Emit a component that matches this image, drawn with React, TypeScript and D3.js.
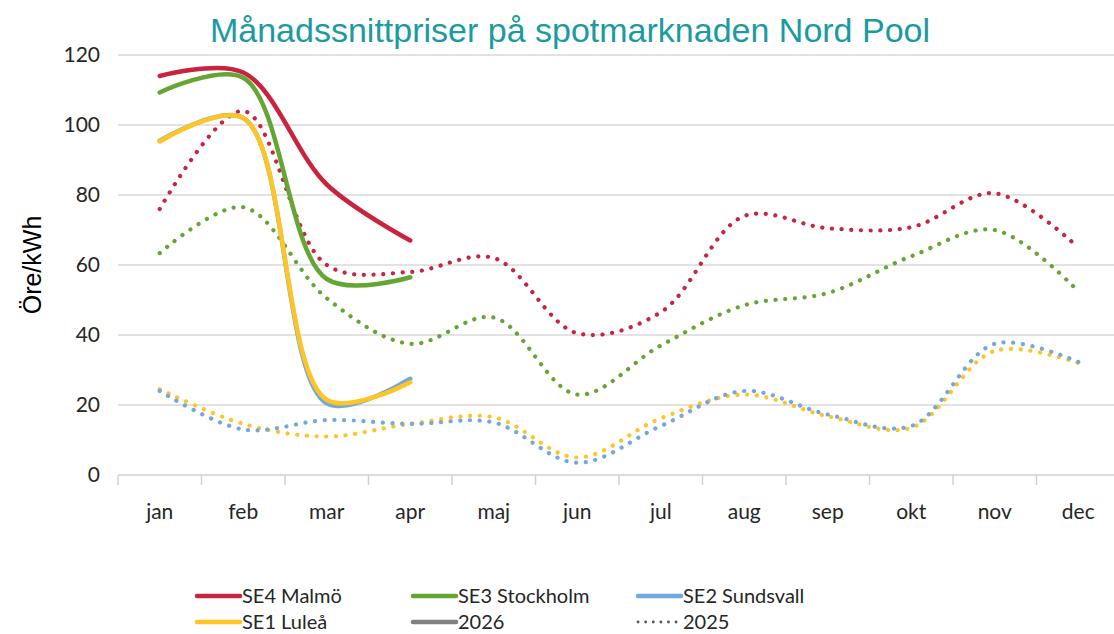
import React, { useEffect, useRef } from 'react';
import { select, scaleBand, scaleLinear, line, curveCatmullRom } from 'd3';

const months = ['jan', 'feb', 'mar', 'apr', 'maj', 'jun', 'jul', 'aug', 'sep', 'okt', 'nov', 'dec'];
const yTicks = [0, 20, 40, 60, 80, 100, 120];

// 2026 (solid, only jan-apr so far)
const se4_2026 = [114, 115, 83, 67];
const se3_2026 = [109.3, 113.5, 56, 56.5];
const se2_2026 = [95.5, 102, 20.5, 27.5];
const se1_2026 = [95.3, 102, 21.5, 26.5];

// 2025 (dotted)
const se4_2025 = [76, 104, 60, 58, 62, 40.5, 46.5, 74, 70.5, 70.8, 80.5, 65];
const se3_2025 = [63.4, 76.5, 50.5, 37.5, 45, 23, 37, 48.5, 52, 62.5, 70, 52.5];
const se2_2025 = [24, 13, 15.7, 14.6, 15, 3.5, 14, 24, 17.3, 14, 37.5, 32.3];
const se1_2025 = [24.5, 14.6, 11, 14.6, 16.5, 5, 16.2, 23, 16.8, 13.5, 35.5, 32];

const RED = '#C8243F';
const GREEN = '#64A533';
const BLUE = '#72A8DD';
const YELLOW = '#FFC525';

const legendItems = [
  { label: 'SE4 Malmö', color: RED, dotted: false },
  { label: 'SE3 Stockholm', color: GREEN, dotted: false },
  { label: 'SE2 Sundsvall', color: BLUE, dotted: false },
  { label: 'SE1 Luleå', color: YELLOW, dotted: false },
  { label: '2026', color: '#808080', dotted: false },
  { label: '2025', color: '#5a5a5a', dotted: true },
];

const W = 1114;
const H = 634;
const LABEL_FONT = 'Lato, "Open Sans", sans-serif';

const App = () => {
  const svgRef = useRef<SVGSVGElement>(null);

  useEffect(() => {
    const svg = select(svgRef.current);
    svg.selectAll('*').remove();

    const xScale = scaleBand<string>().domain(months).range([118, 1120]);
    const yScale = scaleLinear().domain([0, 120]).range([475, 55]);
    const xc = (i: number) => (xScale(months[i]) as number) + xScale.bandwidth() / 2;

    // gridlines
    svg.append('g')
      .selectAll('line')
      .data(yTicks)
      .join('line')
      .attr('x1', 118)
      .attr('x2', W)
      .attr('y1', d => yScale(d))
      .attr('y2', d => yScale(d))
      .attr('stroke', d => (d === 0 ? '#d0d0d0' : '#d9d9d9'))
      .attr('stroke-width', 1.5);

    // x tick marks at band edges
    svg.append('g')
      .selectAll('line')
      .data(months.concat(['end']))
      .join('line')
      .attr('x1', (d, i) => 118 + i * xScale.bandwidth())
      .attr('x2', (d, i) => 118 + i * xScale.bandwidth())
      .attr('y1', yScale(0))
      .attr('y2', yScale(0) + 10)
      .attr('stroke', '#d0d0d0')
      .attr('stroke-width', 1.5);

    // y tick labels
    svg.append('g')
      .selectAll('text')
      .data(yTicks)
      .join('text')
      .attr('x', 100)
      .attr('y', d => yScale(d))
      .attr('dy', '0.35em')
      .attr('text-anchor', 'end')
      .attr('font-family', LABEL_FONT)
      .attr('font-size', 21)
      .attr('fill', '#262626')
      .text(d => d);

    // x tick labels
    svg.append('g')
      .selectAll('text')
      .data(months)
      .join('text')
      .attr('x', (d, i) => xc(i))
      .attr('y', 512)
      .attr('dy', '0.35em')
      .attr('text-anchor', 'middle')
      .attr('font-family', LABEL_FONT)
      .attr('font-size', 21)
      .attr('fill', '#262626')
      .text(d => d);

    // axis title
    svg.append('text')
      .attr('transform', 'translate(41,265) rotate(-90)')
      .attr('text-anchor', 'middle')
      .attr('font-family', '"Liberation Sans", Arial, sans-serif')
      .attr('font-size', 25)
      .attr('fill', '#000')
      .text('Öre/kWh');

    // chart title
    svg.append('text')
      .attr('x', 570)
      .attr('y', 42)
      .attr('text-anchor', 'middle')
      .attr('font-family', '"Liberation Sans", Arial, sans-serif')
      .attr('font-size', 34)
      .attr('fill', '#1C9AA1')
      .text('Månadssnittpriser på spotmarknaden Nord Pool');

    const myLine = line<number>()
      .x((v, i) => xc(i))
      .y(v => yScale(v))
      .curve(curveCatmullRom);

    const dotted = [
      { data: se1_2025, color: YELLOW },
      { data: se2_2025, color: BLUE },
      { data: se3_2025, color: GREEN },
      { data: se4_2025, color: RED },
    ];
    svg.append('g')
      .selectAll('path')
      .data(dotted)
      .join('path')
      .attr('d', d => myLine(d.data))
      .attr('fill', 'none')
      .attr('stroke', d => d.color)
      .attr('stroke-width', 4.2)
      .attr('stroke-linecap', 'round')
      .attr('stroke-dasharray', '0.1 9.6');

    const solid = [
      { data: se4_2026, color: RED },
      { data: se3_2026, color: GREEN },
      { data: se2_2026, color: BLUE },
      { data: se1_2026, color: YELLOW },
    ];
    svg.append('g')
      .selectAll('path')
      .data(solid)
      .join('path')
      .attr('d', d => myLine(d.data))
      .attr('fill', 'none')
      .attr('stroke', d => d.color)
      .attr('stroke-width', 4.5)
      .attr('stroke-linecap', 'round');

    // legend
    const cols = [197, 413, 638];
    const rows = [596, 622];
    const leg = svg.append('g')
      .selectAll('g')
      .data(legendItems)
      .join('g')
      .attr('transform', (d, i) => `translate(${cols[i % 3]},${rows[Math.floor(i / 3)]})`);
    leg.append('line')
      .attr('x1', 0)
      .attr('x2', 43)
      .attr('stroke', d => d.color)
      .attr('stroke-width', d => (d.dotted ? 2.8 : 4.5))
      .attr('stroke-linecap', 'round')
      .attr('stroke-dasharray', d => (d.dotted ? '0.1 7.5' : null));
    leg.append('text')
      .attr('x', 45)
      .attr('dy', '0.35em')
      .attr('font-family', LABEL_FONT)
      .attr('font-size', 20)
      .attr('fill', '#262626')
      .text(d => d.label);
  }, []);

  return (
    <svg
      ref={svgRef}
      width={W}
      height={H}
      style={{ position: 'absolute', left: 0, top: 0, background: '#fff' }}
    />
  );
};

export default App;
